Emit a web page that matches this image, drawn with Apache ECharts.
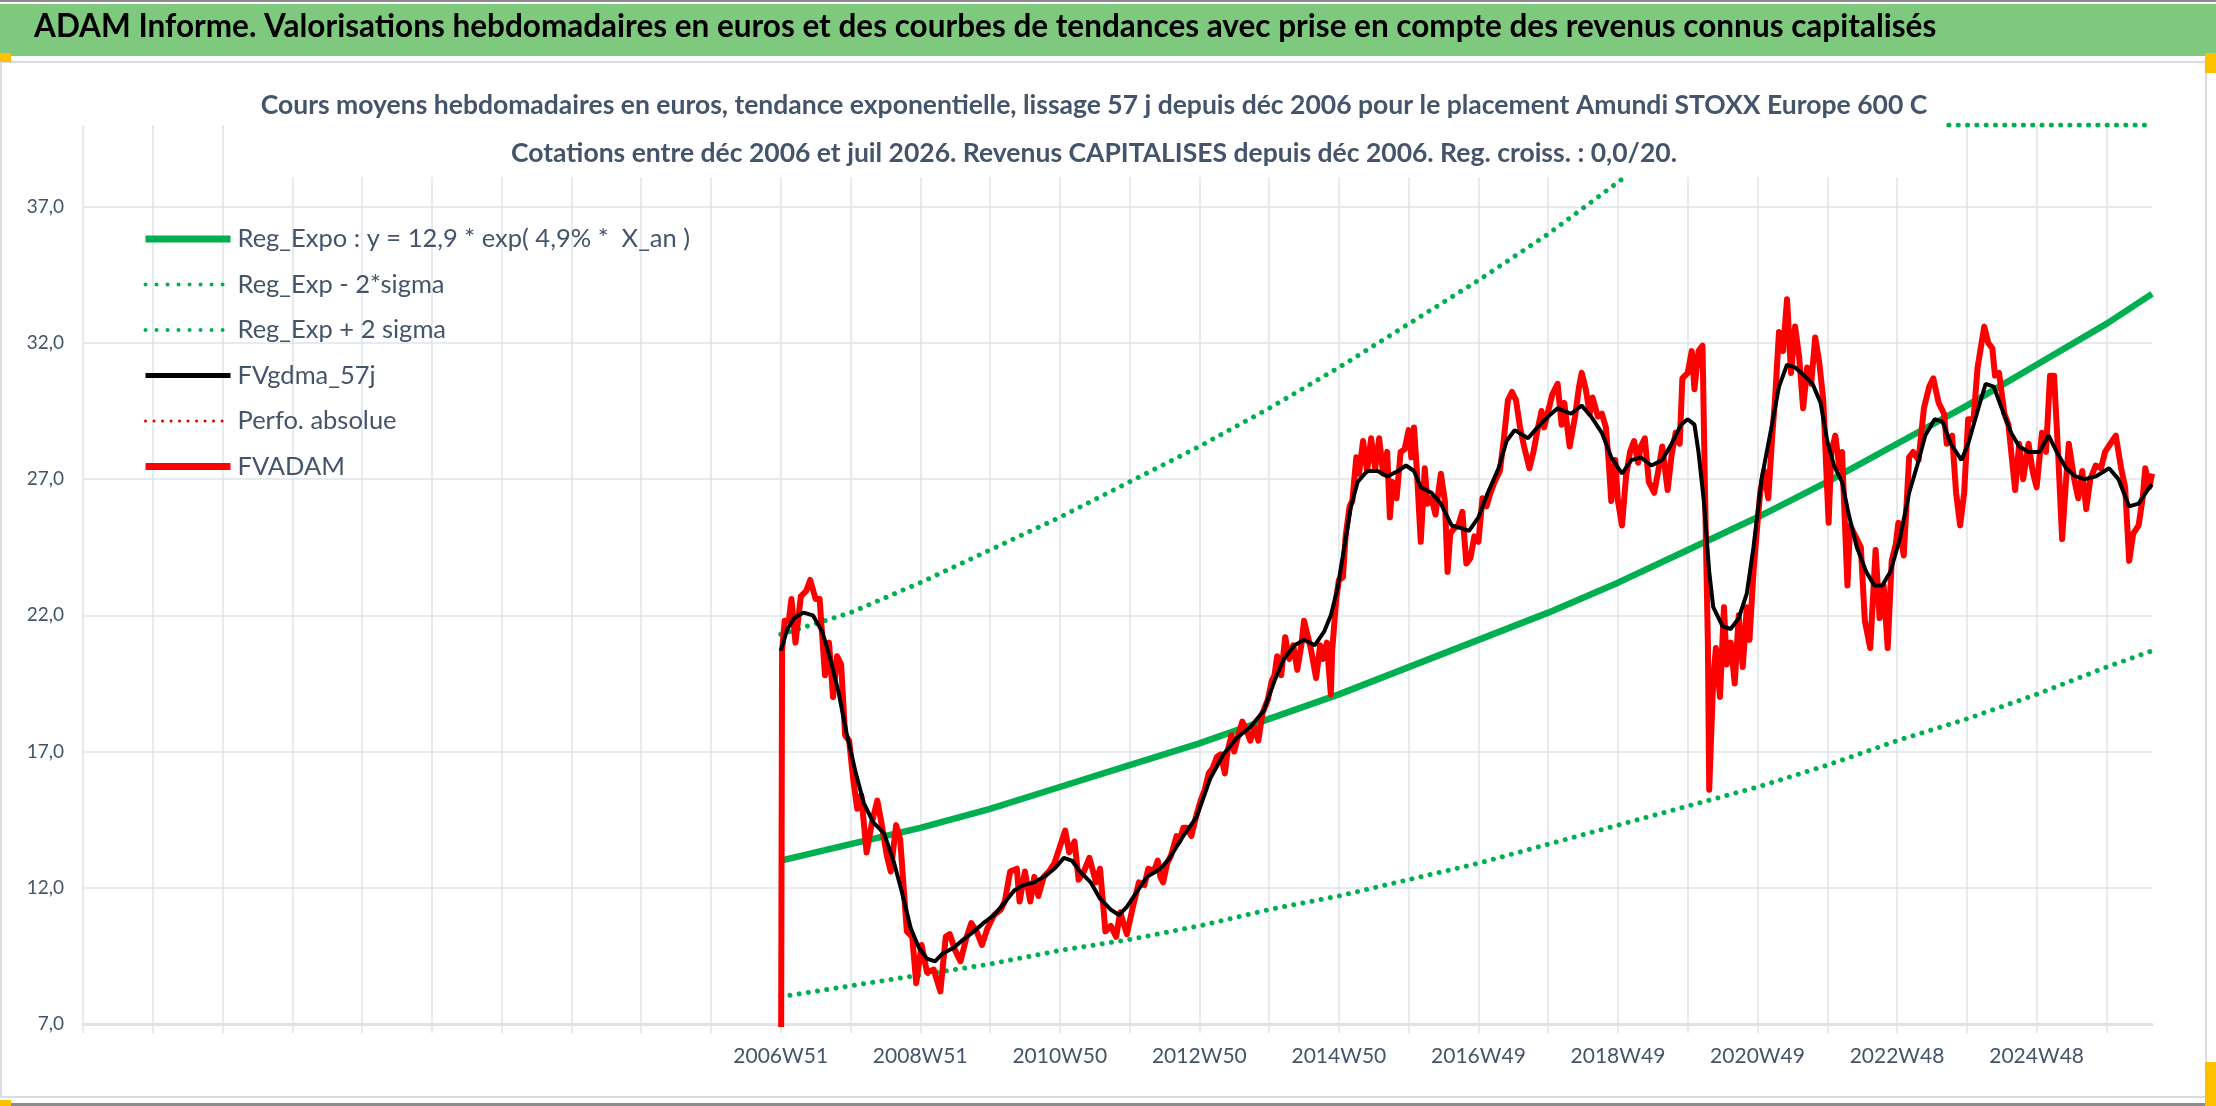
<!DOCTYPE html>
<html>
<head>
<meta charset="utf-8">
<title>ADAM Informe - Amundi STOXX Europe 600 C</title>
<script src="https://cdn.jsdelivr.net/npm/echarts@6.0.0/dist/echarts.min.js"></script>
<style>
  html, body { margin: 0; padding: 0; background: #fff; }
  #chart { width: 2216px; height: 1106px; }
</style>
</head>
<body>
<div id="chart"></div>
<script>
// weeks counted from 2006W51 (first quotation); axis starts 520 weeks earlier
var firstWeekMs = Date.UTC(2006, 11, 18);
var leadWeeks = 520;
var weekCount = 1023;

var tickLabels = ['2006W51', '2008W51', '2010W50', '2012W50', '2014W50',
    '2016W49', '2018W49', '2020W49', '2022W48', '2024W48'];

// regression curves read once a year (every 52 weeks), last point at week 1022
var regWeeks = [0, 52, 104, 156, 208, 260, 312, 364, 416, 468, 520, 572, 624,
    676, 728, 780, 832, 884, 936, 988, 1022];
var regExpo = [13.0, 13.6, 14.2, 14.9, 15.7, 16.5, 17.3, 18.2, 19.1, 20.1, 21.1,
    22.1, 23.2, 24.4, 25.6, 26.9, 28.3, 29.7, 31.2, 32.7, 33.8];
var regMinus = [8.0, 8.4, 8.8, 9.2, 9.7, 10.1, 10.6, 11.2, 11.7, 12.3, 12.9,
    13.6, 14.3, 15.0, 15.7, 16.5, 17.4, 18.2, 19.1, 20.1, 20.7];
var regPlus = [21.3, 22.1, 23.2, 24.4, 25.6, 26.9, 28.2, 29.6, 31.1, 32.7, 34.3,
    36.0, 37.9, 39.8, 40, 40, 40, 40, 40, 40, 40];

// FVgdma_57j : [week, value]
var fvgdma = [[0,20.7],[5,21.5],[10,21.9],[17,22.1],[24,22.0],[31,21.4],[37,20.4],
    [43,19.2],[49,17.7],[56,16.2],[62,15.1],[69,14.4],[77,14.0],[84,13.0],[90,11.9],
    [97,10.5],[103,9.8],[109,9.4],[115,9.3],[121,9.6],[129,9.8],[136,10.1],[144,10.4],
    [151,10.7],[159,11.0],[166,11.4],[174,11.9],[181,12.1],[189,12.2],[196,12.4],
    [204,12.7],[211,13.1],[217,13.0],[223,12.6],[231,12.2],[238,11.6],[246,11.2],
    [252,11.0],[258,11.3],[266,11.9],[273,12.4],[283,12.7],[290,13.1],[300,13.9],
    [310,14.6],[320,16.0],[330,16.9],[340,17.5],[350,17.9],[360,18.5],[368,19.6],
    [375,20.4],[383,20.9],[390,21.1],[398,20.9],[405,21.4],[410,22.0],[415,23.0],
    [420,24.5],[425,26.0],[430,26.9],[437,27.3],[445,27.3],[452,27.1],[460,27.3],
    [466,27.5],[472,27.3],[477,26.7],[485,26.5],[492,26.1],[500,25.3],[507,25.2],
    [513,25.1],[520,25.6],[527,26.5],[535,27.4],[541,28.4],[547,28.8],[557,28.5],
    [564,28.9],[572,29.3],[579,29.6],[589,29.4],[597,29.7],[604,29.3],[612,28.7],
    [619,27.8],[627,27.2],[634,27.7],[641,27.8],[649,27.5],[657,27.7],[664,28.3],
    [671,29.0],[676,29.2],[681,29.0],[684,28.0],[688,26.2],[692,23.6],[695,22.3],
    [702,21.6],[708,21.5],[714,21.9],[720,22.8],[725,24.5],[731,27.0],[738,28.8],
    [744,30.4],[750,31.2],[756,31.1],[763,30.8],[769,30.5],[775,29.8],[780,28.4],
    [785,27.5],[791,26.9],[796,25.7],[802,24.5],[809,23.6],[815,23.1],[821,23.1],
    [827,23.6],[834,24.8],[841,26.5],[847,27.5],[853,28.6],[860,29.2],[866,29.1],
    [872,28.3],[880,27.7],[885,28.3],[892,29.5],[898,30.5],[904,30.4],[910,29.6],
    [917,28.7],[923,28.2],[930,28.0],[938,28.0],[945,28.6],[951,28.0],[958,27.4],
    [965,27.1],[972,27.0],[980,27.1],[990,27.4],[997,27.0],[1005,26.0],[1012,26.1],
    [1020,26.7],[1022,26.8]];

// FVADAM : [week, value]
var fvadam = [[0,0],[1,20.7],[3,21.8],[6,21.8],[8,22.6],[11,21.0],[15,22.7],[19,22.9],
    [22,23.3],[26,22.6],[29,22.6],[33,19.8],[36,21.0],[39,19.0],[42,20.5],[45,20.2],
    [48,17.6],[51,17.4],[54,16.0],[57,14.9],[60,15.4],[64,13.3],[68,14.4],[72,15.2],
    [75,14.4],[79,13.2],[82,12.6],[86,14.3],[89,13.8],[94,10.4],[98,10.2],[101,8.5],
    [105,9.9],[109,8.9],[114,9.0],[119,8.2],[123,10.2],[126,10.3],[130,9.7],[134,9.3],
    [138,10.1],[142,10.7],[146,10.4],[150,9.9],[154,10.5],[159,11.0],[164,11.2],
    [167,11.5],[171,12.6],[176,12.7],[178,11.5],[182,12.6],[186,11.5],[189,12.4],
    [192,11.7],[196,12.4],[200,12.6],[204,12.9],[208,13.5],[212,14.1],[215,13.3],
    [219,13.7],[222,12.3],[226,12.6],[230,13.1],[235,12.2],[238,12.7],[242,10.4],
    [246,10.6],[250,10.2],[253,11.1],[258,10.3],[262,11.2],[267,12.2],[271,12.1],
    [274,12.7],[278,12.6],[281,13.0],[283,12.4],[285,12.2],[288,12.9],[291,13.2],
    [295,13.9],[297,13.7],[300,14.2],[303,14.2],[306,13.9],[310,14.7],[313,15.2],
    [316,15.6],[319,16.2],[322,16.4],[325,16.8],[328,16.9],[331,16.2],[333,17.0],
    [336,17.6],[338,17.0],[341,17.6],[344,18.1],[347,17.8],[350,17.4],[353,17.9],
    [356,17.4],[359,18.4],[363,18.9],[366,19.6],[368,19.8],[370,20.5],[373,19.8],
    [376,21.2],[379,20.4],[382,20.9],[385,20.0],[388,20.9],[390,21.8],[393,21.2],
    [395,20.8],[399,19.7],[402,20.9],[404,20.4],[407,21.0],[410,19.1],[411,20.7],
    [414,22.6],[416,23.3],[419,23.4],[421,24.9],[424,26.0],[426,26.2],[429,27.8],
    [431,27.2],[434,28.4],[437,27.3],[440,28.5],[443,27.4],[446,28.5],[449,27.2],
    [452,28.0],[454,25.6],[456,26.9],[459,26.3],[462,28.0],[465,28.1],[468,28.8],
    [470,27.8],[472,28.9],[474,27.4],[477,24.7],[480,27.4],[482,26.1],[485,26.3],
    [488,25.7],[492,27.2],[495,26.2],[497,23.6],[499,25.0],[502,25.2],[505,25.3],
    [508,25.8],[511,23.9],[514,24.1],[517,24.9],[520,24.7],[523,26.3],[526,26.0],
    [529,26.5],[532,26.9],[536,27.3],[539,28.5],[542,29.9],[545,30.2],[548,29.9],
    [551,28.9],[554,28.2],[558,27.4],[561,28.0],[564,28.8],[567,29.5],[569,28.9],
    [572,29.5],[575,30.1],[579,30.5],[582,29.0],[584,29.8],[588,28.2],[592,29.3],
    [595,30.4],[597,30.9],[600,30.3],[603,29.4],[605,30.0],[609,29.3],[612,29.4],
    [615,28.9],[617,27.7],[619,26.2],[622,27.7],[624,26.2],[627,25.3],[630,27.1],
    [633,28.0],[636,28.4],[639,27.6],[641,28.2],[644,28.5],[647,26.9],[651,26.5],
    [654,27.3],[657,28.2],[661,26.6],[664,27.9],[667,28.7],[670,28.3],[672,30.7],
    [676,30.9],[679,31.7],[681,30.3],[684,31.7],[687,31.9],[689,26.2],[691,21.0],
    [692,15.6],[695,19.7],[697,20.8],[700,19.0],[703,22.3],[705,20.2],[708,21.0],
    [711,19.5],[714,22.0],[717,20.1],[720,22.3],[722,21.1],[725,23.6],[728,25.4],
    [730,26.5],[733,27.3],[736,26.3],[739,28.6],[741,29.9],[744,32.4],[747,31.7],
    [750,33.6],[753,30.9],[756,32.6],[759,31.5],[762,29.6],[765,31.1],[768,30.5],
    [771,32.2],[774,31.3],[777,29.9],[781,25.4],[783,28.0],[786,28.6],[789,27.4],
    [791,28.0],[795,23.1],[797,25.3],[801,24.9],[805,24.5],[808,21.8],[812,20.8],
    [816,24.4],[819,21.9],[822,23.1],[825,20.8],[828,24.0],[831,24.6],[833,25.4],
    [837,24.2],[841,27.8],[844,28.0],[848,27.7],[852,29.6],[856,30.4],[859,30.7],
    [863,29.8],[867,29.4],[869,28.3],[873,28.6],[876,26.5],[879,25.3],[882,26.5],
    [885,29.2],[889,29.2],[892,31.1],[897,32.6],[900,32.0],[903,31.8],[905,30.8],
    [908,30.9],[912,29.4],[915,29.0],[920,26.6],[923,28.3],[926,27.0],[930,28.3],
    [933,27.3],[936,26.7],[940,28.7],[943,28.0],[946,30.8],[949,30.8],[952,28.0],
    [955,24.8],[958,27.0],[960,28.3],[964,27.0],[967,26.3],[970,27.3],[973,25.9],
    [976,27.0],[980,27.5],[984,27.4],[987,28.0],[991,28.3],[995,28.6],[999,27.4],
    [1002,26.7],[1005,24.0],[1008,25.0],[1012,25.3],[1015,26.3],[1017,27.4],
    [1020,26.7],[1022,27.2]];

var perfoAbsolue = [];

var fontMain = 'Lato';
var textGrey = '#44546a';
var gridGrey = '#dfe3e9';

function isoWeekLabel(ms) {
    var d = new Date(ms);
    var dayNum = (d.getUTCDay() + 6) % 7;
    d.setUTCDate(d.getUTCDate() - dayNum + 3);
    var year = d.getUTCFullYear();
    var jan4 = new Date(Date.UTC(year, 0, 4));
    var jan4Day = (jan4.getUTCDay() + 6) % 7;
    var week1Thu = Date.UTC(year, 0, 4) - jan4Day * 86400000 + 3 * 86400000;
    var week = 1 + Math.round((d.getTime() - week1Thu) / (7 * 86400000));
    return year + 'W' + week;
}

var categories = [];
for (var i = 0; i < leadWeeks + weekCount; i++) {
    categories.push(isoWeekLabel(firstWeekMs + (i - leadWeeks) * 7 * 86400000));
}

function toAxis(pairs) {
    return pairs.map(function (p) { return [p[0] + leadWeeks, p[1]]; });
}
function regSeries(values) {
    return values.map(function (v, k) { return [regWeeks[k] + leadWeeks, v]; });
}
function yearly(index) { return index % 52 === 0; }

var dotted = [0.01, 9.3];
var noSymbol = { opacity: 0 };

var chart = echarts.init(document.getElementById('chart'));
chart.setOption({
    animation: false,
    backgroundColor: '#ffffff',
    graphic: [
        { type: 'rect', shape: { x: 0, y: 0, width: 2216, height: 2 }, style: { fill: '#8c8c8c' } },
        { type: 'rect', shape: { x: 0, y: 4, width: 2216, height: 52 }, style: { fill: '#7fc97f' } },
        { type: 'rect', shape: { x: 1, y: 62, width: 2205, height: 1035 },
          style: { fill: 'none', stroke: '#d9dde3', lineWidth: 2 } },
        { type: 'rect', shape: { x: 0, y: 1103, width: 2216, height: 3 }, style: { fill: '#8c8c8c' } },
        { type: 'rect', shape: { x: 0, y: 53, width: 11, height: 9 }, style: { fill: '#ffc000' } },
        { type: 'rect', shape: { x: 2205, y: 53, width: 11, height: 20 }, style: { fill: '#ffc000' } },
        { type: 'rect', shape: { x: 0, y: 1100, width: 11, height: 6 }, style: { fill: '#ffc000' } },
        { type: 'rect', shape: { x: 2205, y: 1062, width: 11, height: 44 }, style: { fill: '#ffc000' } }
    ],
    title: [{
        text: 'ADAM Informe. Valorisations hebdomadaires en euros et des courbes de tendances avec prise en compte des revenus connus capitalisés',
        left: 34,
        top: 11,
        padding: 0,
        textStyle: { fontFamily: fontMain, fontSize: 31.5, fontWeight: 'bold', color: '#000000' }
    }, {
        text: 'Cours moyens hebdomadaires en euros, tendance exponentielle, lissage 57 j depuis déc 2006 pour le placement Amundi STOXX Europe 600 C\n' +
              'Cotations entre déc 2006 et juil 2026. Revenus CAPITALISES depuis déc 2006. Reg. croiss. : 0,0/20.',
        left: 1078,
        top: 81,
        padding: [0, 16, 0, 16],
        backgroundColor: '#ffffff',
        textAlign: 'center',
        textStyle: { fontFamily: fontMain, fontSize: 26.5, fontWeight: 'bold', color: textGrey, lineHeight: 48 }
    }],
    legend: {
        orient: 'vertical',
        left: 137,
        top: 217,
        itemWidth: 85,
        itemHeight: 12,
        itemGap: 11.5,
        selectedMode: false,
        itemStyle: noSymbol,
        textStyle: { fontFamily: fontMain, fontSize: 25.5, color: textGrey, lineHeight: 34, padding: [0, 0, 0, 2] },
        data: [
            { name: 'Reg_Expo : y = 12,9 * exp( 4,9% *  X_an )', itemStyle: noSymbol, lineStyle: { width: 7, color: '#00b050' } },
            { name: 'Reg_Exp - 2*sigma', itemStyle: noSymbol, lineStyle: { width: 4, color: '#00b050', type: [0.01, 11], cap: 'round' } },
            { name: 'Reg_Exp + 2 sigma', itemStyle: noSymbol, lineStyle: { width: 4, color: '#00b050', type: [0.01, 11], cap: 'round' } },
            { name: 'FVgdma_57j', itemStyle: noSymbol, lineStyle: { width: 5, color: '#000000' } },
            { name: 'Perfo. absolue', itemStyle: noSymbol, lineStyle: { width: 3, color: '#e00000', type: [0.01, 8.5], cap: 'round' } },
            { name: 'FVADAM', itemStyle: noSymbol, lineStyle: { width: 7, color: '#ff0000' } }
        ]
    },
    grid: { left: 83, right: 64, top: 125, bottom: 82 },
    xAxis: {
        type: 'category',
        data: categories,
        boundaryGap: false,
        axisLine: { lineStyle: { color: gridGrey, width: 3 } },
        axisTick: { interval: yearly, length: 9, lineStyle: { color: gridGrey, width: 1.5 } },
        splitLine: { show: true, interval: yearly, lineStyle: { color: gridGrey, width: 1.5 } },
        axisLabel: {
            interval: function (index, value) { return tickLabels.indexOf(value) >= 0; },
            margin: 22,
            fontFamily: fontMain,
            fontSize: 21,
            color: textGrey
        }
    },
    yAxis: {
        type: 'value',
        min: 7,
        max: 40,
        interval: 5,
        axisLine: { show: false },
        axisTick: { show: false },
        splitLine: { show: true, showMaxLine: false, lineStyle: { color: gridGrey, width: 1.5 } },
        axisLabel: {
            margin: 19,
            showMaxLabel: false,
            fontFamily: fontMain,
            fontSize: 19,
            color: textGrey,
            formatter: function (v) { return v > 37 ? '' : v.toFixed(1).replace('.', ','); }
        }
    },
    series: [{
        name: 'Reg_Expo : y = 12,9 * exp( 4,9% *  X_an )',
        type: 'line', symbol: 'none', z: 2,
        lineStyle: { width: 6.5, color: '#00b050' },
        itemStyle: { color: '#00b050' },
        data: regSeries(regExpo)
    }, {
        name: 'Reg_Exp - 2*sigma',
        type: 'line', symbol: 'none', z: 2,
        lineStyle: { width: 5, color: '#00b050', type: dotted, cap: 'round' },
        itemStyle: { color: '#00b050' },
        data: regSeries(regMinus)
    }, {
        name: 'Reg_Exp + 2 sigma',
        type: 'line', symbol: 'none', z: 2,
        lineStyle: { width: 5, color: '#00b050', type: dotted, cap: 'round' },
        itemStyle: { color: '#00b050' },
        data: regSeries(regPlus)
    }, {
        name: 'FVgdma_57j',
        type: 'line', symbol: 'none', z: 4,
        lineStyle: { width: 4, color: '#000000' },
        itemStyle: { color: '#000000' },
        data: toAxis(fvgdma)
    }, {
        name: 'Perfo. absolue',
        type: 'line', symbol: 'none', z: 3,
        lineStyle: { width: 3, color: '#e00000', type: 'dotted' },
        itemStyle: { color: '#e00000' },
        data: perfoAbsolue
    }, {
        name: 'FVADAM',
        type: 'line', symbol: 'none', z: 3,
        lineStyle: { width: 6, color: '#ff0000', join: 'round' },
        itemStyle: { color: '#ff0000' },
        data: toAxis(fvadam)
    }]
});
</script>
</body>
</html>
